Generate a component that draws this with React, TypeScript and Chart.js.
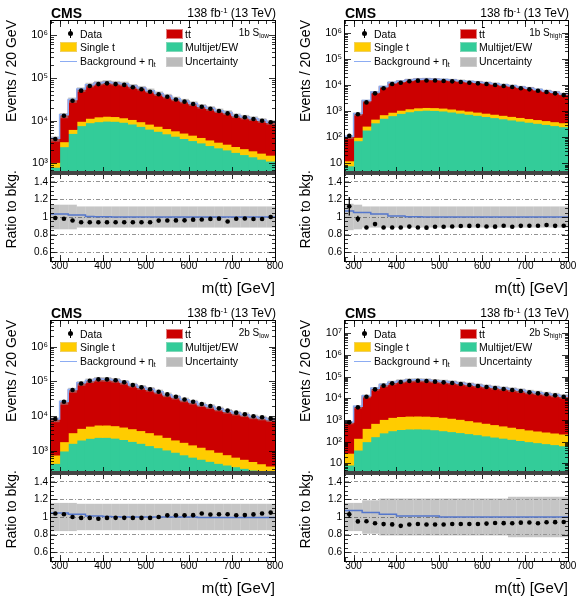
import { useEffect, useRef } from 'react';
import { Chart, registerables } from 'chart.js';

Chart.register(...registerables);

const FONT = '"Liberation Sans", Arial, Helvetica, sans-serif';
Chart.defaults.font.family = FONT;
Chart.defaults.color = '#000';

// m(tt) bin centres and edges [GeV]
const massBins = [290, 310, 330, 350, 370, 390, 410, 430, 450, 470, 490, 510, 530, 550, 570, 590, 610, 630, 650, 670, 690, 710, 730, 750, 770, 790];
const binEdges = [280, 300, 320, 340, 360, 380, 400, 420, 440, 460, 480, 500, 520, 540, 560, 580, 600, 620, 640, 660, 680, 700, 720, 740, 760, 780, 800];
const massTicks = [300, 400, 500, 600, 700, 800];
const ratioTicks = [0.6, 0.8, 1, 1.2, 1.4];
const ratioMinorTicks = [0.5, 0.55, 0.65, 0.7, 0.75, 0.85, 0.9, 0.95, 1.05, 1.1, 1.15, 1.25, 1.3, 1.35, 1.45, 1.5];

// 1b S_low
const data1bLow = [3700, 12900, 29000, 50000, 64000, 71000, 74000, 71000, 68000, 60000, 54000, 47000, 41000, 36000, 31000, 27600, 24300, 21000, 18900, 16700, 14700, 12800, 11900, 10900, 9900, 9100];
const ttbar1bLow = [2690, 9960, 24000, 43600, 56800, 63300, 66100, 63100, 60700, 53200, 48000, 41700, 35400, 31000, 26500, 23600, 20500, 17600, 15800, 13900, 12700, 10600, 9900, 9200, 8400, 7550];
const singleTop1bLow = [240, 750, 1200, 2000, 2400, 2800, 2900, 2800, 2500, 2300, 2100, 1950, 1750, 1600, 1450, 1300, 1150, 1020, 920, 820, 740, 670, 600, 540, 480, 420];
const multijet1bLow = [810, 2450, 5000, 7600, 8900, 9400, 9700, 9600, 9100, 8300, 7300, 6300, 5600, 4900, 4300, 3800, 3400, 3000, 2600, 2300, 2060, 1800, 1600, 1420, 1250, 1130];
const unc1bLow = [0.14, 0.14, 0.14, 0.12, 0.12, 0.12, 0.12, 0.12, 0.12, 0.12, 0.12, 0.12, 0.12, 0.12, 0.12, 0.12, 0.12, 0.12, 0.12, 0.12, 0.12, 0.12, 0.12, 0.12, 0.12, 0.12];
const eta1bLow = [1.035, 1.035, 1.022, 1.022, 1.005, 1.003, 1.002, 1.001, 1, 1, 1, 1, 1, 1, 1, 1, 1, 1, 1, 1, 1, 1, 1, 1, 1, 1];

// 1b S_high
const data1bHigh = [115, 770, 2200, 4900, 7700, 11200, 12600, 14300, 15100, 15300, 15200, 14700, 14200, 13400, 12600, 11900, 11200, 10300, 9400, 8600, 7700, 7000, 6200, 5500, 4900, 4200];
const ttbar1bHigh = [90, 686, 2230, 4830, 8010, 11800, 13200, 14800, 15800, 16000, 15700, 15200, 14700, 13800, 13000, 12300, 11700, 10800, 9740, 9030, 7980, 7250, 6410, 5610, 5050, 4300];
const singleTop1bHigh = [4.5, 26, 80, 140, 200, 240, 270, 290, 300, 305, 305, 300, 285, 265, 248, 232, 216, 200, 185, 172, 160, 147, 136, 126, 117, 108];
const multijet1bHigh = [8, 74, 190, 360, 540, 680, 830, 960, 1060, 1100, 1080, 1030, 940, 850, 770, 700, 630, 570, 515, 465, 420, 380, 345, 313, 282, 256];
const unc1bHigh = [0.15, 0.14, 0.12, 0.12, 0.12, 0.12, 0.12, 0.12, 0.12, 0.12, 0.12, 0.12, 0.12, 0.12, 0.12, 0.12, 0.12, 0.12, 0.12, 0.12, 0.12, 0.12, 0.12, 0.12, 0.12, 0.12];
const eta1bHigh = [1.068, 1.05, 1.05, 1.034, 1.034, 1.012, 1.012, 1.004, 1.002, 1, 1, 1, 1, 1, 1, 1, 1, 1, 1, 1, 1, 1, 1, 1, 1, 1];

// 2b S_low
const data2bLow = [8200, 25900, 56000, 87000, 104000, 114000, 114000, 107000, 94000, 78000, 67000, 59000, 50000, 42000, 36000, 30000, 25900, 22200, 19400, 16600, 14300, 12500, 11200, 9800, 9200, 8400];
const ttbar2bLow = [7130, 23300, 52700, 83500, 100000, 110800, 109700, 102800, 90100, 74500, 63900, 56300, 47200, 38800, 33300, 27700, 23900, 20100, 17800, 15200, 13100, 11600, 10400, 9030, 8430, 7640];
const singleTop2bLow = [320, 840, 1670, 2370, 2830, 3080, 3080, 2960, 2700, 2450, 2170, 1910, 1620, 1370, 1140, 980, 820, 690, 570, 470, 380, 305, 255, 210, 170, 149];
const multijet2bLow = [430, 980, 1630, 2030, 2270, 2420, 2420, 2300, 2100, 1850, 1630, 1400, 1220, 1050, 900, 760, 650, 565, 492, 431, 386, 345, 309, 277, 250, 212];
const unc2bLow = [0.16, 0.16, 0.16, 0.15, 0.15, 0.15, 0.15, 0.15, 0.15, 0.15, 0.15, 0.15, 0.15, 0.15, 0.15, 0.15, 0.15, 0.15, 0.15, 0.15, 0.15, 0.15, 0.15, 0.15, 0.15, 0.15];
const eta2bLow = [1.045, 1.045, 1.03, 1.03, 1.012, 1.012, 1.005, 1.003, 1, 1, 1, 1, 1, 1, 1, 1, 1, 0.993, 0.993, 0.993, 0.993, 0.993, 0.993, 0.993, 0.993, 0.993];

// 2b S_high
const data2bHigh = [780, 3840, 11900, 26000, 38400, 49200, 56700, 63000, 65000, 63000, 58700, 54700, 51000, 45900, 41200, 37000, 33300, 30000, 27000, 24300, 21800, 18900, 17000, 15300, 13700, 11900];
const ttbar2bHigh = [728, 3900, 12100, 27300, 40700, 52400, 61600, 67300, 69100, 67400, 62700, 58500, 54200, 48800, 43800, 39400, 35300, 31600, 28500, 25700, 22900, 19800, 18000, 16000, 14300, 12400];
const singleTop2bHigh = [21, 102, 310, 530, 810, 1000, 1080, 1130, 1140, 1120, 1075, 1010, 910, 810, 700, 600, 520, 450, 388, 335, 287, 248, 221, 198, 178, 161];
const multijet2bHigh = [8.4, 41, 100, 170, 255, 320, 365, 385, 390, 380, 355, 320, 290, 262, 235, 210, 185, 163, 145, 128, 113, 100, 90, 81, 73, 65];
const unc2bHigh = [0.16, 0.16, 0.19, 0.19, 0.21, 0.21, 0.21, 0.21, 0.21, 0.21, 0.21, 0.21, 0.21, 0.21, 0.21, 0.21, 0.21, 0.21, 0.21, 0.23, 0.23, 0.23, 0.23, 0.23, 0.23, 0.23];
const eta2bHigh = [1.073, 1.073, 1.05, 1.05, 1.03, 1.03, 1.012, 1.012, 1.012, 1.012, 1.012, 1, 1, 1, 1, 1, 1, 1, 1, 1, 1, 1, 1, 1, 1, 1];

// layout
const MAIN_H = 152;
const RATIO_H = 88;
const AX_W = 46;
const PAD_R = 14;
const X_AX_H = 38;

const C_TT = '#cc0000';
const C_ST = '#ffcc00';
const C_MJ = '#33cc99';
const C_UNC = 'rgba(150,150,150,0.55)';
const C_ETA = '#8cacf2';
const C_ETA_RATIO = '#5577cc';

interface PanelSpec {
  left: number;
  right: number;
  top: number;
  nb: string;
  region: string;
  data: number[];
  ttbar: number[];
  singleTop: number[];
  multijet: number[];
  unc: number[];
  eta: number[];
  yMin: number;
  yMax: number;
  yTicks: number[];
}

const panels: PanelSpec[] = [
  { left: 51, right: 275, top: 21, nb: '1b', region: 'low', data: data1bLow, ttbar: ttbar1bLow, singleTop: singleTop1bLow, multijet: multijet1bLow, unc: unc1bLow, eta: eta1bLow, yMin: 594, yMax: 2.12e6, yTicks: [1e3, 1e4, 1e5, 1e6] },
  { left: 345, right: 568, top: 21, nb: '1b', region: 'high', data: data1bHigh, ttbar: ttbar1bHigh, singleTop: singleTop1bHigh, multijet: multijet1bHigh, unc: unc1bHigh, eta: eta1bHigh, yMin: 4.24, yMax: 2.97e6, yTicks: [10, 1e2, 1e3, 1e4, 1e5, 1e6] },
  { left: 51, right: 275, top: 321, nb: '2b', region: 'low', data: data2bLow, ttbar: ttbar2bLow, singleTop: singleTop2bLow, multijet: multijet2bLow, unc: unc2bLow, eta: eta2bLow, yMin: 227, yMax: 5.5e6, yTicks: [1e3, 1e4, 1e5, 1e6] },
  { left: 345, right: 568, top: 321, nb: '2b', region: 'high', data: data2bHigh, ttbar: ttbar2bHigh, singleTop: singleTop2bHigh, multijet: multijet2bHigh, unc: unc2bHigh, eta: eta2bHigh, yMin: 3.58, yMax: 3.7e7, yTicks: [10, 1e2, 1e3, 1e4, 1e5, 1e6, 1e7] },
];

const SUP: Record<string, string> = { '0': '⁰', '1': '¹', '2': '²', '3': '³', '4': '⁴', '5': '⁵', '6': '⁶', '7': '⁷', '8': '⁸', '9': '⁹' };
function powLabel(v: number) {
  const e = Math.round(Math.log10(v));
  if (e === 1) return '10';
  return '10' + String(e).split('').map((c) => SUP[c]).join('');
}

// ROOT-like inward tick marks on all four sides of the plot frame
const frameTicks = {
  id: 'frameTicks',
  afterDatasetsDraw(chart: any, _args: any, opts: any) {
    const { ctx, chartArea: a, scales } = chart;
    ctx.save();
    ctx.strokeStyle = '#000';
    ctx.lineWidth = 0.8;
    const seg = (x1: number, y1: number, x2: number, y2: number) => {
      ctx.beginPath();
      ctx.moveTo(x1, y1);
      ctx.lineTo(x2, y2);
      ctx.stroke();
    };
    (opts.x || []).forEach(([v, len]: [number, number]) => {
      const px = Math.round(scales.x.getPixelForValue(v)) + 0.5;
      seg(px, a.bottom, px, a.bottom - len);
      seg(px, a.top, px, a.top + len);
    });
    (opts.y || []).forEach(([v, len]: [number, number]) => {
      const py = Math.round(scales.y.getPixelForValue(v)) + 0.5;
      if (py < a.top || py > a.bottom) return;
      seg(a.left, py, a.left + len, py);
      seg(a.right, py, a.right - len, py);
    });
    ctx.restore();
  },
};

function Panel({ p }: { p: PanelSpec }) {
  const mainRef = useRef<HTMLCanvasElement>(null);
  const ratioRef = useRef<HTMLCanvasElement>(null);
  const plotW = p.right - p.left;
  const mainBot = p.top + MAIN_H;
  const ratioBot = mainBot + RATIO_H;

  useEffect(() => {
    if (!mainRef.current || !ratioRef.current) return;

    const bkg = p.ttbar.map((t, i) => t + p.singleTop[i] + p.multijet[i]);
    const stTop = p.multijet.map((m, i) => m + p.singleTop[i]);
    const floor = massBins.map(() => p.yMin);
    const range = (lo: number[], hi: number[]) => massBins.map((x, i) => ({ x, y: [lo[i], hi[i]] }));
    const steps = (vals: number[]) => binEdges.map((x, i) => ({ x, y: vals[Math.min(i, vals.length - 1)] }));
    const bar = { type: 'bar', grouped: false, barPercentage: 1, categoryPercentage: 1, borderWidth: 0, inflateAmount: 0.5 };

    const ratio = p.data.map((d, i) => d / bkg[i]);
    const ratioErr = ratio.map((r, i) => r / Math.sqrt(p.data[i]));

    const xTickMarks = [...binEdges.map((v) => [v, 3]), ...massTicks.map((v) => [v, 6])];
    const logMinor: number[][] = [];
    for (let e = -1; e <= 8; e++) {
      for (let k = 2; k <= 9; k++) {
        const v = k * Math.pow(10, e);
        if (v > p.yMin && v < p.yMax) logMinor.push([v, 3]);
      }
    }
    const yTickMarks = [...logMinor, ...p.yTicks.map((v) => [v, 6])];

    const xScale = (show: boolean) => ({
      type: 'linear',
      min: 280,
      max: 800,
      offset: false,
      display: show,
      afterBuildTicks: (s: any) => { s.ticks = massTicks.map((v) => ({ value: v })); },
      afterFit: show ? (s: any) => { s.height = X_AX_H; s.paddingLeft = 0; s.paddingRight = 0; } : undefined,
      grid: { display: false, drawTicks: false },
      border: { display: false },
      ticks: { padding: -1, font: { size: 10 }, color: '#000', maxRotation: 0, autoSkip: false },
    });

    const main = new Chart(mainRef.current, {
      type: 'bar',
      data: {
        datasets: [
          { type: 'line', data: massBins.map((x, i) => ({ x, y: p.data[i] })), showLine: false, pointRadius: 2.3, pointBackgroundColor: '#000', pointBorderWidth: 0, order: 0 },
          { type: 'line', data: steps(bkg.map((b, i) => b * p.eta[i])), stepped: 'before', borderColor: C_ETA, borderWidth: 1.5, pointRadius: 0, fill: false, order: 1 },
          { ...bar, inflateAmount: 0, data: range(bkg.map((b, i) => b * (1 - p.unc[i])), bkg.map((b, i) => b * (1 + p.unc[i]))), backgroundColor: C_UNC, order: 2 },
          { ...bar, data: range(stTop, bkg), backgroundColor: C_TT, order: 3 },
          { ...bar, data: range(p.multijet, stTop), backgroundColor: C_ST, order: 4 },
          { ...bar, data: range(floor, p.multijet), backgroundColor: C_MJ, order: 5 },
        ],
      } as any,
      options: {
        responsive: true,
        maintainAspectRatio: false,
        animation: false,
        layout: { padding: { left: 0, right: PAD_R, top: 1, bottom: 1 }, autoPadding: false },
        plugins: { legend: { display: false }, tooltip: { enabled: false }, frameTicks: { x: xTickMarks, y: yTickMarks } },
        scales: {
          x: xScale(false),
          y: {
            type: 'logarithmic',
            min: p.yMin,
            max: p.yMax,
            afterBuildTicks: (s: any) => { s.ticks = p.yTicks.map((v) => ({ value: v })); },
            afterFit: (s: any) => { s.width = AX_W; s.paddingTop = 0; s.paddingBottom = 0; },
            grid: { display: false, drawTicks: false },
            border: { display: false },
            ticks: { padding: 3, font: { size: 11 }, color: '#000', callback: (v: any) => powLabel(Number(v)) },
          },
        },
      } as any,
      plugins: [frameTicks],
    });

    const ratioChart = new Chart(ratioRef.current, {
      type: 'bar',
      data: {
        datasets: [
          { type: 'line', data: massBins.map((x, i) => ({ x, y: ratio[i] })), showLine: false, pointRadius: 2.3, pointBackgroundColor: '#000', pointBorderWidth: 0, order: 0 },
          { ...bar, barPercentage: 0.14, inflateAmount: 0, data: range(ratio.map((r, i) => r - ratioErr[i]), ratio.map((r, i) => r + ratioErr[i])), backgroundColor: '#000', order: 1 },
          { type: 'line', data: steps(p.eta), stepped: 'before', borderColor: C_ETA_RATIO, borderWidth: 1.5, pointRadius: 0, fill: false, order: 2 },
          { ...bar, inflateAmount: 0, data: range(p.unc.map((u) => 1 - u), p.unc.map((u) => 1 + u)), backgroundColor: C_UNC, order: 3 },
        ],
      } as any,
      options: {
        responsive: true,
        maintainAspectRatio: false,
        animation: false,
        layout: { padding: { left: 0, right: PAD_R, top: 1, bottom: 0 }, autoPadding: false },
        plugins: {
          legend: { display: false },
          tooltip: { enabled: false },
          frameTicks: { x: xTickMarks, y: [...ratioMinorTicks.map((v) => [v, 3]), ...ratioTicks.map((v) => [v, 6])] },
        },
        scales: {
          x: xScale(true),
          y: {
            type: 'linear',
            min: 0.5,
            max: 1.5,
            afterBuildTicks: (s: any) => { s.ticks = ratioTicks.map((v) => ({ value: v })); },
            afterFit: (s: any) => { s.width = AX_W; s.paddingTop = 0; s.paddingBottom = 0; },
            grid: { color: (c: any) => (c.tick && c.tick.value === 1 ? '#333' : '#777'), lineWidth: 0.8, drawTicks: false },
            border: { display: false, dash: [4, 2, 1, 2] },
            ticks: { padding: 3, font: { size: 10 }, color: '#000', callback: (v: any) => (Number(v) === 1 ? '1' : Number(v).toFixed(1)) },
          },
        },
      } as any,
      plugins: [frameTicks],
    });

    return () => {
      main.destroy();
      ratioChart.destroy();
    };
  }, [p]);

  const txt = (x: number, y: number, size: number, content: any, align: 'left' | 'right' = 'left', bold = false) => {
    const lh = Math.round(size * 1.3);
    const st: any = { position: 'absolute', top: y - lh / 2, fontSize: size, lineHeight: lh + 'px', whiteSpace: 'nowrap', fontWeight: bold ? 'bold' : 'normal', color: '#000' };
    if (align === 'left') st.left = x;
    else { st.left = x - 200; st.width = 200; st.textAlign = 'right'; }
    return <div style={st}>{content}</div>;
  };
  const sub = (s: string) => <span style={{ fontSize: '0.65em', position: 'relative', top: '0.35em' }}>{s}</span>;
  const box = (x: number, y: number, color: string, border: string) => (
    <div style={{ position: 'absolute', left: x, top: y, width: 17, height: 10, background: color, border: `1px solid ${border}`, boxSizing: 'border-box' }} />
  );
  const ttbarText = <span>t<span style={{ textDecoration: 'overline' }}>t</span></span>;
  const L = p.left;
  const T = p.top;

  return (
    <>
      <div style={{ position: 'absolute', left: L - AX_W, top: T - 1, width: plotW + AX_W + PAD_R, height: MAIN_H + 2 }}>
        <canvas ref={mainRef} />
      </div>
      <div style={{ position: 'absolute', left: L - AX_W, top: mainBot - 1, width: plotW + AX_W + PAD_R, height: RATIO_H + 1 + X_AX_H }}>
        <canvas ref={ratioRef} />
      </div>

      {/* frames */}
      <div style={{ position: 'absolute', left: L - 1, top: T - 1, width: plotW + 2, height: MAIN_H + 2, border: '1px solid #000', boxSizing: 'border-box' }} />
      <div style={{ position: 'absolute', left: L - 1, top: mainBot - 1, width: plotW + 2, height: RATIO_H + 2, border: '1px solid #000', boxSizing: 'border-box' }} />
      <div style={{ position: 'absolute', left: L, top: mainBot - 2, width: plotW, height: 4, background: '#444' }} />

      {/* header */}
      {txt(L, T - 8, 14, 'CMS', 'left', true)}
      {txt(p.right + 1, T - 8, 12, <span>138 fb<span style={{ fontSize: '0.65em', position: 'relative', top: '-0.55em' }}>-1</span> (13 TeV)</span>, 'right')}
      {txt(p.right - 6, T + 11, 10, <span>{p.nb} S{sub(p.region)}</span>, 'right')}

      {/* legend */}
      <div style={{ position: 'absolute', left: L + 18.5, top: T + 8, width: 1, height: 9, background: '#000' }} />
      <div style={{ position: 'absolute', left: L + 16.5, top: T + 10, width: 5, height: 5, borderRadius: 3, background: '#000' }} />
      {txt(L + 29, T + 12.5, 10.5, 'Data')}
      {box(L + 9, T + 21, C_ST, '#f0d060')}
      {txt(L + 29, T + 26, 10.5, 'Single t')}
      <div style={{ position: 'absolute', left: L + 9, top: T + 39.5, width: 17, height: 1.5, background: C_ETA }} />
      {txt(L + 29, T + 40, 10.5, <span>Background + η{sub('t')}</span>)}
      {box(L + 114.5, T + 7.5, C_TT, '#e08080')}
      {txt(L + 134, T + 12.5, 10.5, ttbarText)}
      {box(L + 114.5, T + 21, C_MJ, '#80d8b8')}
      {txt(L + 134, T + 26, 10.5, 'Multijet/EW')}
      {box(L + 114.5, T + 35.5, '#bbbbbb', '#cccccc')}
      {txt(L + 134, T + 40, 10.5, 'Uncertainty')}

      {/* axis titles */}
      <div style={{ position: 'absolute', left: L - 48, top: T - 1, fontSize: 14, lineHeight: '16px', writingMode: 'vertical-rl', transform: 'rotate(180deg)', whiteSpace: 'nowrap' }}>Events / 20 GeV</div>
      <div style={{ position: 'absolute', left: L - 48, top: mainBot - 3, fontSize: 14, lineHeight: '16px', writingMode: 'vertical-rl', transform: 'rotate(180deg)', whiteSpace: 'nowrap' }}>Ratio to bkg.</div>
      {txt(p.right, ratioBot + 27, 15, <span>m({ttbarText}) [GeV]</span>, 'right')}
    </>
  );
}

export default function App() {
  return (
    <div style={{ position: 'absolute', left: 0, top: 0, width: 580, height: 599, background: '#fff', fontFamily: FONT, overflow: 'hidden' }}>
      {panels.map((p) => (
        <Panel key={p.nb + p.region} p={p} />
      ))}
    </div>
  );
}
